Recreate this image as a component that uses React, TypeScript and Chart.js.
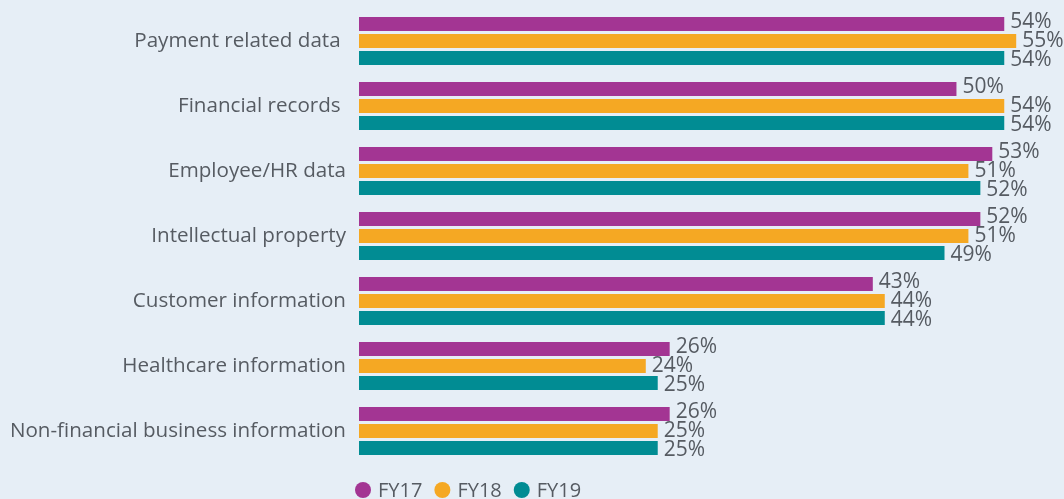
import React, { useEffect, useRef } from "react";
import { Chart, registerables } from "chart.js";

Chart.register(...registerables);

const categories = [
  "Payment related data ",
  "Financial records ",
  "Employee/HR data",
  "Intellectual property",
  "Customer information",
  "Healthcare information",
  "Non-financial business information",
];
const fy17 = [54, 50, 53, 52, 43, 26, 26];
const fy18 = [55, 54, 51, 51, 44, 24, 25];
const fy19 = [54, 54, 52, 49, 44, 25, 25];
const seriesNames = ["FY17", "FY18", "FY19"];
const seriesColors = ["#A33593", "#F5A823", "#018C93"];

const BG = "#E6EEF6";
const TEXT = "#565B62";
const FONT = "'Open Sans', sans-serif";

export default function App() {
  const ref = useRef<HTMLCanvasElement | null>(null);
  useEffect(() => {
    document.body.style.margin = "0";
    document.body.style.background = BG;
    const canvas = ref.current!;
    const labelPlugin = {
      id: "valueLabels",
      afterDatasetsDraw(chart: any) {
        const ctx = chart.ctx;
        ctx.save();
        ctx.fillStyle = TEXT;
        ctx.font = `21px ${FONT}`;
        ctx.textAlign = "left";
        ctx.textBaseline = "middle";
        chart.data.datasets.forEach((ds: any, di: number) => {
          const meta = chart.getDatasetMeta(di);
          meta.data.forEach((bar: any, i: number) => {
            ctx.fillText(ds.data[i] + "%", bar.x + 6, bar.y + (di - 1) * 2);
          });
        });
        ctx.restore();
      },
    };
    const legendPlugin = {
      id: "customLegend",
      afterDraw(chart: any) {
        const ctx = chart.ctx;
        ctx.save();
        ctx.font = `20px ${FONT}`;
        ctx.textBaseline = "middle";
        ctx.textAlign = "left";
        const y = 490;
        let x = 363;
        seriesNames.forEach((name, i) => {
          ctx.fillStyle = seriesColors[i];
          ctx.beginPath();
          ctx.arc(x, y, 8, 0, Math.PI * 2);
          ctx.fill();
          ctx.fillStyle = TEXT;
          ctx.fillText(name, x + 15, y + 1);
          const w = ctx.measureText(name).width;
          x = x + 15 + w + 20;
        });
        ctx.restore();
      },
    };
    const chart = new Chart(canvas, {
      type: "bar",
      data: {
        labels: categories,
        datasets: [fy17, fy18, fy19].map((d, i) => ({
          label: seriesNames[i],
          data: d,
          backgroundColor: seriesColors[i],
          borderWidth: 0,
          categoryPercentage: 0.785,
          barPercentage: 0.82,
        })),
      },
      options: {
        indexAxis: "y",
        responsive: false,
        animation: false,
        layout: { padding: { top: 8.5, bottom: 35.5, left: 0, right: 0 } },
        plugins: { legend: { display: false }, tooltip: { enabled: false } },
        scales: {
          x: { display: false, min: 0, max: 59 },
          y: {
            grid: { display: false },
            border: { display: false },
            ticks: { color: TEXT, font: { family: FONT, size: 20.6 }, padding: 5 },
            afterFit(scale: any) {
              scale.width = 359;
              scale.paddingTop = 0;
              scale.paddingBottom = 0;
            },
          },
        },
      },
      plugins: [labelPlugin, legendPlugin],
    });
    return () => chart.destroy();
  }, []);
  return (
    <div style={{ background: BG, width: 1064, height: 499 }}>
      <canvas ref={ref} width={1064} height={499} style={{ display: "block" }} />
    </div>
  );
}
